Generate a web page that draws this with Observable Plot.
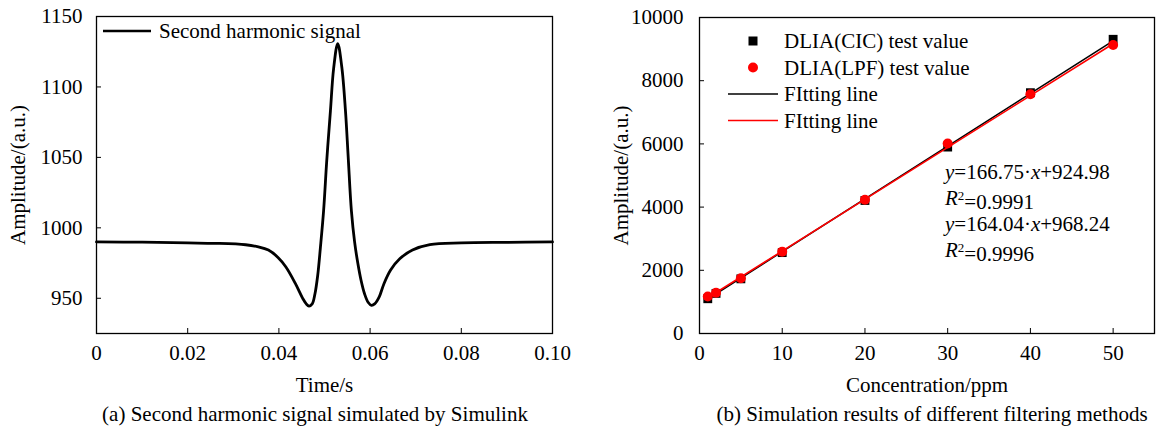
<!DOCTYPE html>
<html><head><meta charset="utf-8">
<script src="https://cdn.jsdelivr.net/npm/d3@7"></script>
<script src="https://cdn.jsdelivr.net/npm/@observablehq/plot@0.6"></script>
<style>
body{margin:0;background:#fff;font-family:"Liberation Serif","Times New Roman",serif;}
#wrap{position:relative;width:1157px;height:432px;overflow:hidden;}
.panel{position:absolute;top:0;}
.cap{position:absolute;font-size:21px;white-space:nowrap;transform:translateX(-50%);color:#000;}
</style></head><body>
<div id="wrap">
 <div id="a" class="panel" style="left:0"></div>
 <div id="b" class="panel" style="left:600px"></div>
 <div class="cap" style="left:315px;top:402px">(a) Second harmonic signal simulated by Simulink</div>
 <div class="cap" style="left:932px;top:402px">(b) Simulation results of different filtering methods</div>
</div>
<script>
// ---- Panel (a) data ----
const timeA = [0, 0.01, 0.02, 0.026, 0.0327, 0.0355, 0.0377, 0.0398, 0.0415, 0.0436, 0.0453, 0.0460, 0.0466, 0.0473, 0.0479, 0.0485, 0.0491, 0.0498, 0.0505, 0.0513, 0.0520, 0.0529, 0.0538, 0.0546, 0.0552, 0.0559, 0.0566, 0.0573, 0.0580, 0.0588, 0.0596, 0.0603, 0.0610, 0.0620, 0.0630, 0.0645, 0.0665, 0.0693, 0.0731, 0.08, 0.09, 0.1];
const ampA = [990, 989.8, 989.3, 989, 988, 986.5, 984.2, 979, 972.4, 960.6, 949.5, 946, 944.5, 946, 953, 966, 986, 1012, 1048, 1083, 1113, 1130.8, 1114, 1083, 1050, 1012, 990, 975, 963, 953, 947, 945, 946, 951, 960, 970, 978, 984.2, 988, 989.3, 989.7, 990];
const xTicksA = [0, 0.02, 0.04, 0.06, 0.08, 0.10];
const yTicksA = [950, 1000, 1050, 1100, 1150];
const legendA = ["Second harmonic signal"];

// ---- Panel (b) data ----
const conc = [1, 2, 5, 10, 20, 30, 40, 50];
const cicVal = [1100, 1270, 1730, 2560, 4210, 5900, 7620, 9310];
const lpfVal = [1170, 1290, 1750, 2590, 4230, 6010, 7570, 9130];
const fitX = [1, 50];
const fitCIC = [1091.7, 9262.5];
const fitLPF = [1132.3, 9170.2];
const xTicksB = [0, 10, 20, 30, 40, 50];
const yTicksB = [0, 2000, 4000, 6000, 8000, 10000];
const legendB = ["DLIA(CIC) test value", "DLIA(LPF) test value", "FItting line", "FItting line"];
const eqSlope = ["166.75", "164.04"];
const eqIntercept = ["924.98", "968.24"];
const eqR2 = ["0.9991", "0.9996"];

const FONT = "'Liberation Serif', 'Times New Roman', serif";
const style = {fontFamily: FONT, fontSize: "21px", color: "#000", background: "transparent", overflow: "visible"};

// ---------- Panel (a) ----------
const dataA = timeA.map((t, i) => ({t, v: ampA[i]}));
const WA = 600, HA = 400, mlA = 96, mrA = 48, mtA = 16, mbA = 67;
const pwA = WA - mlA - mrA, phA = HA - mtA - mbA;

const legendMarkA = (index, scales, values, dim) => {
  const g = d3.create("svg:g").attr("font-family", FONT).attr("font-size", 21).attr("text-anchor", "start");
  legendA.forEach((lab, i) => {
    const y = dim.marginTop + 15 + i * 26;
    g.append("line").attr("x1", dim.marginLeft + 7).attr("x2", dim.marginLeft + 55)
      .attr("y1", y).attr("y2", y).attr("stroke", "#000").attr("stroke-width", 2.6);
    g.append("text").attr("x", dim.marginLeft + 63).attr("y", y).attr("dy", "0.35em").attr("text-anchor", "start").text(lab);
  });
  return g.node();
};

const plotA = Plot.plot({
  width: WA, height: HA, marginLeft: mlA, marginRight: mrA, marginTop: mtA, marginBottom: mbA,
  style,
  x: {domain: [0, 0.1]},
  y: {domain: [925, 1150]},
  marks: [
    Plot.line(dataA, {x: "t", y: "v", stroke: "#000", strokeWidth: 2.8, curve: "catmull-rom"}),
    Plot.tickX(xTicksA.slice(1, -1), {x: d => d, insetTop: phA - 5, stroke: "#000"}),
    Plot.tickY(yTicksA.slice(0, -1), {y: d => d, insetRight: pwA - 5, stroke: "#000"}),
    Plot.frame({stroke: "#000", strokeWidth: 1.3}),
    Plot.axisX(xTicksA, {tickSize: 0, tickPadding: 12, tickFormat: d => d === 0 ? "0" : d.toFixed(2),
      label: "Time/s", labelAnchor: "center", labelOffset: 58, labelArrow: "none"}),
    Plot.axisY(yTicksA, {tickSize: 0, tickPadding: 14, tickFormat: d => String(d),
      label: "Amplitude/(a.u.)", labelAnchor: "center", labelOffset: 86, labelArrow: "none"}),
    legendMarkA
  ]
});
document.getElementById("a").append(plotA);

// ---------- Panel (b) ----------
const cicData = conc.map((c, i) => ({c, v: cicVal[i]}));
const lpfData = conc.map((c, i) => ({c, v: lpfVal[i]}));
const fitCICData = fitX.map((c, i) => ({c, v: fitCIC[i]}));
const fitLPFData = fitX.map((c, i) => ({c, v: fitLPF[i]}));
const WB = 557, HB = 400, mlB = 99, mrB = 3, mtB = 17, mbB = 67;
const pwB = WB - mlB - mrB, phB = HB - mtB - mbB;

const legendMarkB = (index, scales, values, dim) => {
  const g = d3.create("svg:g").attr("font-family", FONT).attr("font-size", 21).attr("text-anchor", "start");
  const x0 = dim.marginLeft, y0 = dim.marginTop;
  legendB.forEach((lab, i) => {
    const y = y0 + 24 + i * 26.5;
    if (i === 0) g.append("rect").attr("x", x0 + 49.5).attr("y", y - 4.5).attr("width", 9).attr("height", 9).attr("fill", "#000");
    else if (i === 1) g.append("circle").attr("cx", x0 + 54).attr("cy", y).attr("r", 5).attr("fill", "#f00");
    else g.append("line").attr("x1", x0 + 29).attr("x2", x0 + 79).attr("y1", y).attr("y2", y)
      .attr("stroke", i === 2 ? "#000" : "#f00").attr("stroke-width", 1.6);
    g.append("text").attr("x", x0 + 85).attr("y", y).attr("dy", "0.35em").attr("text-anchor", "start").text(lab);
  });
  // equations
  const ex = x0 + 246;
  eqSlope.forEach((s, i) => {
    const y1 = y0 + 155 + i * 52;
    const t1 = g.append("text").attr("x", ex).attr("y", y1).attr("dy", "0.35em").attr("text-anchor", "start");
    t1.append("tspan").attr("font-style", "italic").text("y");
    t1.append("tspan").text("=" + s + "\u00b7");
    t1.append("tspan").attr("font-style", "italic").text("x");
    t1.append("tspan").text("+" + eqIntercept[i]);
    const t2 = g.append("text").attr("x", ex).attr("y", y1 + 26).attr("dy", "0.35em").attr("text-anchor", "start");
    t2.append("tspan").attr("font-style", "italic").text("R");
    t2.append("tspan").attr("font-size", 13).attr("dy", "-0.45em").text("2");
    t2.append("tspan").attr("dy", "0.45em").text("=" + eqR2[i]);
  });
  return g.node();
};

const plotB = Plot.plot({
  width: WB, height: HB, marginLeft: mlB, marginRight: mrB, marginTop: mtB, marginBottom: mbB,
  style,
  x: {domain: [0, 55]},
  y: {domain: [0, 10000]},
  marks: [
    Plot.tickX(xTicksB.slice(1), {x: d => d, insetTop: phB - 5, stroke: "#000"}),
    Plot.tickY(yTicksB.slice(1, -1), {y: d => d, insetRight: pwB - 5, stroke: "#000"}),
    Plot.line(fitCICData, {x: "c", y: "v", stroke: "#000", strokeWidth: 1.6}),
    Plot.dot(cicData, {x: "c", y: "v", symbol: "square", r: 5, fill: "#000", stroke: "none"}),
    Plot.line(fitLPFData, {x: "c", y: "v", stroke: "#f00", strokeWidth: 1.6}),
    Plot.dot(lpfData, {x: "c", y: "v", symbol: "circle", r: 5, fill: "#f00", stroke: "none"}),
    Plot.frame({stroke: "#000", strokeWidth: 1.3}),
    Plot.axisX(xTicksB, {tickSize: 0, tickPadding: 12, tickFormat: d => String(d),
      label: "Concentration/ppm", labelAnchor: "center", labelOffset: 58, labelArrow: "none"}),
    Plot.axisY(yTicksB, {tickSize: 0, tickPadding: 16, tickFormat: d => String(d),
      label: "Amplitude/(a.u.)", labelAnchor: "center", labelOffset: 86, labelArrow: "none"}),
    legendMarkB
  ]
});
document.getElementById("b").append(plotB);
</script>
</body></html>
